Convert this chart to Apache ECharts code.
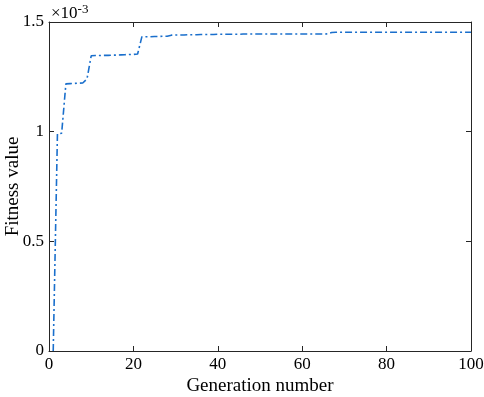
<!DOCTYPE html>
<html>
<head>
<meta charset="utf-8">
<script src="https://cdn.jsdelivr.net/npm/echarts@6/dist/echarts.min.js"></script>
<style>
  html, body { margin: 0; padding: 0; background: #fff; }
  #main { width: 484px; height: 397px; }
</style>
</head>
<body>
<div id="main"></div>
<script>
// fitness per generation, in units of 1e-3
var generations = [];
for (var g = 1; g <= 100; g++) generations.push(g);
var fitness = [
    0, 0.990, 0.993, 1.218, 1.219, 1.220, 1.221, 1.222, 1.240, 1.346,
    1.347, 1.347, 1.348, 1.348, 1.349, 1.349, 1.350, 1.351, 1.352, 1.352,
    1.354, 1.432, 1.433, 1.433, 1.434, 1.434, 1.435, 1.435, 1.440, 1.441,
    1.441, 1.441, 1.442, 1.442, 1.442, 1.443, 1.443, 1.443, 1.443, 1.444,
    1.444, 1.444, 1.444, 1.444, 1.444, 1.445, 1.445, 1.445, 1.445, 1.445,
    1.445, 1.445, 1.445, 1.445, 1.445, 1.445, 1.445, 1.445, 1.445, 1.445,
    1.445, 1.445, 1.445, 1.445, 1.445, 1.446, 1.452, 1.453, 1.453, 1.453,
    1.453, 1.453, 1.453, 1.453, 1.453, 1.453, 1.453, 1.453, 1.453, 1.453,
    1.453, 1.453, 1.453, 1.453, 1.453, 1.453, 1.453, 1.453, 1.453, 1.453,
    1.453, 1.453, 1.453, 1.453, 1.453, 1.453, 1.453, 1.453, 1.453, 1.453
];
var xTicks = [0, 20, 40, 60, 80, 100];
var yTicks = [0, 0.5, 1, 1.5];

var pts = generations.map(function (g, i) { return [g, fitness[i]]; });
var font = 'Liberation Serif';
var axisCol = '#262626';

function frameAxis(pos, ticks, showLabel) {
    return {
        type: 'value', position: pos,
        min: ticks[0], max: ticks[ticks.length - 1], interval: ticks[1] - ticks[0],
        axisLine: { show: true, onZero: false, lineStyle: { color: axisCol, width: 1 } },
        axisTick: { show: true, inside: true, length: 5, lineStyle: { color: axisCol } },
        axisLabel: {
            show: showLabel, color: '#000', fontFamily: font, fontSize: 17, margin: 5,
            formatter: function (v) { return String(v); }
        },
        splitLine: { show: false }
    };
}

var xa = frameAxis('bottom', xTicks, true);
xa.name = 'Generation number';
xa.nameLocation = 'middle';
xa.nameGap = 26;
xa.nameMoveOverlap = false;
xa.nameTextStyle = { color: '#000', fontFamily: font, fontSize: 19 };
var ya = frameAxis('left', yTicks, true);
ya.name = 'Fitness value';
ya.nameLocation = 'middle';
ya.nameGap = 26;
ya.nameMoveOverlap = false;
ya.nameTextStyle = { color: '#000', fontFamily: font, fontSize: 19 };

var option = {
    animation: false,
    grid: { left: 49, right: 13, top: 22, bottom: 46, containLabel: false, outerBoundsMode: 'none' },
    xAxis: [xa, frameAxis('top', xTicks, false)],
    yAxis: [ya, frameAxis('right', yTicks, false)],
    graphic: [{
        type: 'text', left: 51, top: 3,
        style: {
            text: '{b|×10}{s|-3}',
            rich: {
                b: { fontSize: 17, fontFamily: font, fill: '#000' },
                s: { fontSize: 13, fontFamily: font, fill: '#000', verticalAlign: 'top', padding: [0, 0, 8, 0] }
            }
        }
    }],
    series: [{
        type: 'line',
        data: pts,
        showSymbol: false,
        lineStyle: { color: '#1a6fcc', width: 1.6, type: [7, 3, 2, 3] }
    }]
};

var chart = echarts.init(document.getElementById('main'));
chart.setOption(option);
</script>
</body>
</html>
